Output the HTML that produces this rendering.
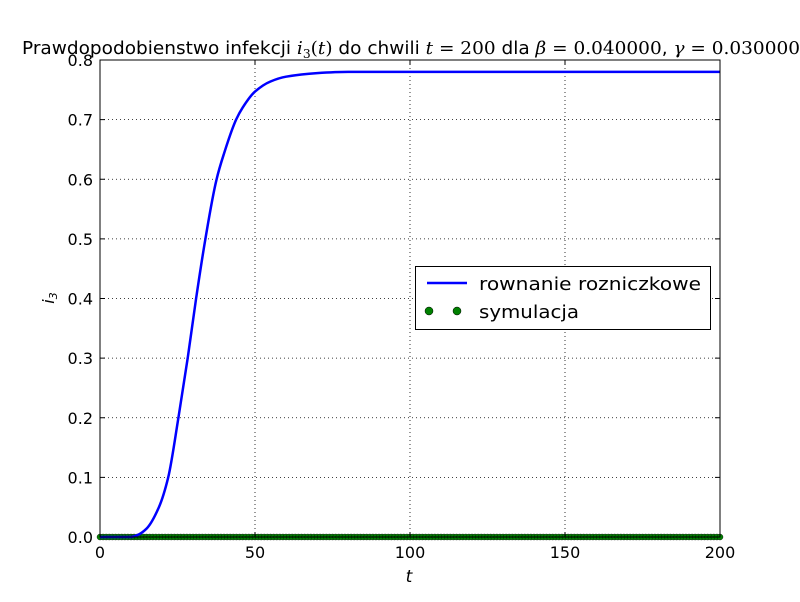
<!DOCTYPE html>
<html><head><meta charset="utf-8"><style>
body{margin:0;background:#fff;}
svg text{font-family:"DejaVu Sans","Liberation Sans",sans-serif;}
</style></head><body>
<svg id="chart" width="800" height="597" xmlns="http://www.w3.org/2000/svg">
<rect width="800" height="597" fill="#fff"/>
<g id="grid"></g><g id="series"></g><g id="axes"></g>
<text x="22" y="54" font-size="18" textLength="778" lengthAdjust="spacingAndGlyphs">Prawdopodobienstwo infekcji <tspan font-family="DejaVu Serif" font-style="italic">i</tspan><tspan font-family="DejaVu Serif" font-size="12" dy="4">3</tspan><tspan font-family="DejaVu Serif" dy="-4">(</tspan><tspan font-family="DejaVu Serif" font-style="italic">t</tspan><tspan font-family="DejaVu Serif">)</tspan> do chwili <tspan font-family="DejaVu Serif" font-style="italic">t</tspan><tspan font-family="DejaVu Serif"> = 200</tspan> dla <tspan font-family="DejaVu Serif" font-style="italic">β</tspan><tspan font-family="DejaVu Serif"> = 0.040000</tspan>, <tspan font-family="DejaVu Serif" font-style="italic">γ</tspan><tspan font-family="DejaVu Serif"> = 0.030000</tspan></text>
<text x="409" y="582" font-size="17" font-family="DejaVu Serif" font-style="italic" text-anchor="middle">t</text>
<text transform="translate(54,298) rotate(-90)" font-size="16" font-family="DejaVu Serif" font-style="italic" text-anchor="middle">i<tspan font-size="11" dy="3">3</tspan></text>
<g>
<rect x="415.5" y="266.5" width="295" height="63" fill="#fff" stroke="#000"/>
<line x1="427" y1="283" x2="467" y2="283" stroke="#0000ff" stroke-width="2.5"/>
<text x="479" y="290" font-size="18" textLength="222" lengthAdjust="spacingAndGlyphs">rownanie rozniczkowe</text>
<circle cx="429" cy="311" r="4" fill="#008000" stroke="#000" stroke-width="0.5"/>
<circle cx="457" cy="311" r="4" fill="#008000" stroke="#000" stroke-width="0.5"/>
<text x="479" y="318" font-size="18" textLength="100" lengthAdjust="spacingAndGlyphs">symulacja</text>
</g>
</svg>
<script>
const odeT=[0,5,10,12,15,19,22,25.3,28.3,31,34,37.6,40,43.9,46,50,55,60,70,80,100,150,200];
const odeI=[0,0,0,0.003,0.014,0.05,0.1,0.2,0.3,0.4,0.5,0.6,0.643,0.7,0.72,0.747,0.764,0.772,0.778,0.78,0.78,0.78,0.78];
const simT=[];for(let t=0;t<=200;t++)simT.push(t);
const simI=simT.map(()=>0);
const xTicks=[0,50,100,150,200];
const yTicks=[0,0.1,0.2,0.3,0.4,0.5,0.6,0.7,0.8];
const L=100,R=720,T=60,B=537;
const X=v=>L+(v-0)/200*(R-L), Y=v=>B-v/0.8*(B-T);
const NS="http://www.w3.org/2000/svg";
function mk(tag,attrs,parent){const e=document.createElementNS(NS,tag);for(const k in attrs)e.setAttribute(k,attrs[k]);parent.appendChild(e);return e;}
const grid=document.getElementById('grid'),ser=document.getElementById('series'),ax=document.getElementById('axes');
xTicks.forEach(v=>{
 const g=mk('line',{x1:X(v),x2:X(v),y1:T,y2:B,stroke:'#000','stroke-dasharray':'1,3','stroke-width':0.8},grid);
 
 
 mk('line',{x1:X(v),x2:X(v),y1:B,y2:B-5,stroke:'#000'},ax);
 mk('line',{x1:X(v),x2:X(v),y1:T,y2:T+5,stroke:'#000'},ax);
 const t=mk('text',{x:X(v),y:B+21,'font-size':16,'text-anchor':'middle'},ax);t.textContent=v;
 
 
});
yTicks.forEach(v=>{
 const g=mk('line',{x1:L,x2:R,y1:Y(v),y2:Y(v),stroke:'#000','stroke-dasharray':'1,3','stroke-width':0.8},grid);
 
 
 mk('line',{x1:L,x2:L+5,y1:Y(v),y2:Y(v),stroke:'#000'},ax);
 mk('line',{x1:R,x2:R-5,y1:Y(v),y2:Y(v),stroke:'#000'},ax);
 const t=mk('text',{x:L-7,y:Y(v)+6,'font-size':16,'text-anchor':'end'},ax);t.textContent=v.toFixed(1);
 
 
});
const fr=mk('rect',{x:L,y:T,width:R-L,height:B-T,fill:'none',stroke:'#000'},ax);


simT.forEach((t,i)=>{
 const c=mk('circle',{cx:X(t),cy:Y(simI[i]),r:3,fill:'#008000',stroke:'#000','stroke-width':0.4},ser);
 
 
});
function monoPath(xs,ys){
 const n=xs.length,dx=[],m=[],s=[];
 for(let i=0;i<n-1;i++){dx[i]=xs[i+1]-xs[i];s[i]=(ys[i+1]-ys[i])/dx[i];}
 m[0]=s[0];m[n-1]=s[n-2];
 for(let i=1;i<n-1;i++){m[i]=(s[i-1]*s[i]<=0)?0:3*(dx[i-1]+dx[i])/((2*dx[i]+dx[i-1])/s[i-1]+(dx[i]+2*dx[i-1])/s[i]);}
 let d='M'+xs[0].toFixed(1)+','+ys[0].toFixed(1);
 for(let i=0;i<n-1;i++){const h=dx[i]/3;
  d+='C'+(xs[i]+h).toFixed(1)+','+(ys[i]+m[i]*h).toFixed(1)+' '+(xs[i+1]-h).toFixed(1)+','+(ys[i+1]-m[i+1]*h).toFixed(1)+' '+xs[i+1].toFixed(1)+','+ys[i+1].toFixed(1);}
 return d;
}
const p=mk('path',{d:monoPath(odeT.map(X),odeI.map(Y)),fill:'none',stroke:'#0000ff','stroke-width':2.5,'stroke-linejoin':'round'},ser);


</script>
</body></html>
